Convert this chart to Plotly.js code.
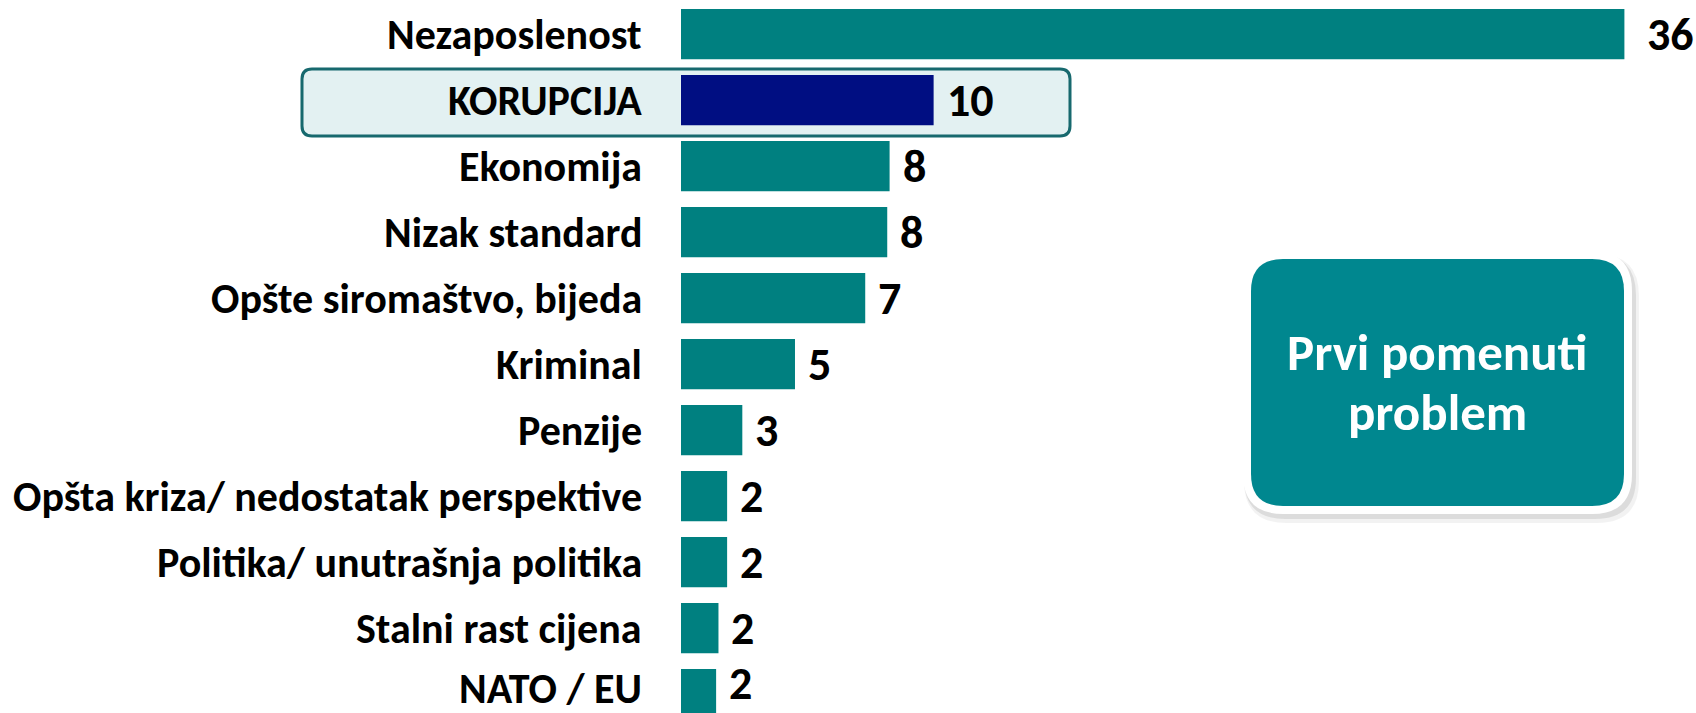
<!DOCTYPE html>
<html>
<head>
<meta charset="utf-8">
<script src="https://cdn.plot.ly/plotly-3.0.1.min.js"></script>
<style>
  html, body { margin: 0; padding: 0; background: #ffffff; }
  #chart { width: 1696px; height: 713px; }
</style>
</head>
<body>
<div id="chart"></div>
<script>
// ---- data ----
const categories = [
  "Nezaposlenost",
  "KORUPCIJA",
  "Ekonomija",
  "Nizak standard",
  "Opšte siromaštvo, bijeda",
  "Kriminal",
  "Penzije",
  "Opšta kriza/ nedostatak perspektive",
  "Politika/ unutrašnja politika",
  "Stalni rast cijena",
  "NATO / EU"
];
// bar lengths as drawn
const values = [36, 9.64, 7.96, 7.87, 7.03, 4.35, 2.34, 1.76, 1.76, 1.43, 1.34];
// numbers printed next to the bars
const valueLabels = ["36", "10", "8", "8", "7", "5", "3", "2", "2", "2", "2"];
const highlightCategory = "KORUPCIJA";
const boxLines = ["Prvi pomenuti", "problem"];

// ---- styling / layout ----
const W = 1696, H = 713, L = 681;
const PW = W - L;
const teal = "#008080";
const navy = "#000E82";
const FONT = "Carlito, Calibri, Lato, sans-serif";

const px2x = p => +((p - L) / PW).toFixed(5);
const px2y = p => +(1 - p / H).toFixed(5);
function rr(x0, y0, x1, y1, r) {
  const a = (x, y) => px2x(x) + "," + px2y(y);
  return "M" + a(x0 + r, y0) + " L" + a(x1 - r, y0) + " Q" + a(x1, y0) + " " + a(x1, y0 + r) +
         " L" + a(x1, y1 - r) + " Q" + a(x1, y1) + " " + a(x1 - r, y1) +
         " L" + a(x0 + r, y1) + " Q" + a(x0, y1) + " " + a(x0, y1 - r) +
         " L" + a(x0, y0 + r) + " Q" + a(x0, y0) + " " + a(x0 + r, y0) + " Z";
}

const colors = categories.map(c => c === highlightCategory ? navy : teal);

const trace = {
  type: "bar",
  orientation: "h",
  x: values,
  y: categories,
  marker: { color: colors, line: { width: 0 } },
  hoverinfo: "skip"
};

const last = categories.length - 1;

// category labels (left of the bars)
const catAnnotations = categories.map((c, i) => ({
  x: 0,
  y: c,
  xref: "paper",
  yref: "y",
  text: c,
  showarrow: false,
  xanchor: "right",
  yanchor: "middle",
  xshift: -37,
  yshift: i === last ? 6 : 0,
  font: { family: FONT, size: 42, color: "#000000", weight: 700 }
}));

// value labels (right of the bars)
const valAnnotations = categories.map((c, i) => ({
  x: values[i],
  y: c,
  xref: "x",
  yref: "y",
  text: valueLabels[i],
  showarrow: false,
  xanchor: "left",
  yanchor: "middle",
  xshift: i === 0 ? 21 : 11,
  yshift: i === last ? 11 : 0,
  font: { family: FONT, size: 46, color: "#000000", weight: 700 }
}));

// text inside the side box
const boxAnnotations = boxLines.map((t, i) => ({
  xref: "paper", yref: "paper",
  x: px2x(1437.5), y: px2y(353 + 60 * i),
  text: t,
  showarrow: false,
  xanchor: "center", yanchor: "middle",
  font: { family: FONT, size: 51, color: "#ffffff", weight: 700 }
}));

const shapes = [
  // highlight box behind KORUPCIJA
  { type: "path", xref: "paper", yref: "paper", layer: "below",
    path: rr(302, 69, 1070, 136, 10),
    fillcolor: "#E3F1F2", line: { color: "#17696E", width: 3 } },
  // shadow of the side box
  { type: "path", xref: "paper", yref: "paper", layer: "below",
    path: rr(1244, 254, 1639, 523, 42),
    fillcolor: "rgba(0,0,0,0.05)", line: { width: 0 } },
  { type: "path", xref: "paper", yref: "paper", layer: "below",
    path: rr(1244, 254, 1636, 519, 41),
    fillcolor: "rgba(0,0,0,0.09)", line: { width: 0 } },
  // white border
  { type: "path", xref: "paper", yref: "paper", layer: "above",
    path: rr(1243, 251, 1632, 514, 40),
    fillcolor: "#ffffff", line: { width: 0 } },
  // teal box
  { type: "path", xref: "paper", yref: "paper", layer: "above",
    path: rr(1251, 259, 1624, 506, 32),
    fillcolor: "#00878F", line: { width: 0 } }
];

const layout = {
  width: W,
  height: H,
  margin: { l: L, r: 0, t: 0, b: 0, pad: 0 },
  paper_bgcolor: "#ffffff",
  plot_bgcolor: "rgba(0,0,0,0)",
  showlegend: false,
  bargap: 0.238,
  xaxis: {
    range: [0, 36 * PW / 943.4],
    visible: false,
    fixedrange: true
  },
  yaxis: {
    type: "category",
    categoryorder: "array",
    categoryarray: categories,
    range: [10.286, -0.517],
    showgrid: false,
    zeroline: false,
    showline: false,
    showticklabels: false,
    ticks: "",
    fixedrange: true
  },
  shapes: shapes,
  annotations: catAnnotations.concat(valAnnotations, boxAnnotations)
};

Plotly.newPlot("chart", [trace], layout, { displayModeBar: false, staticPlot: true });
</script>
</body>
</html>
